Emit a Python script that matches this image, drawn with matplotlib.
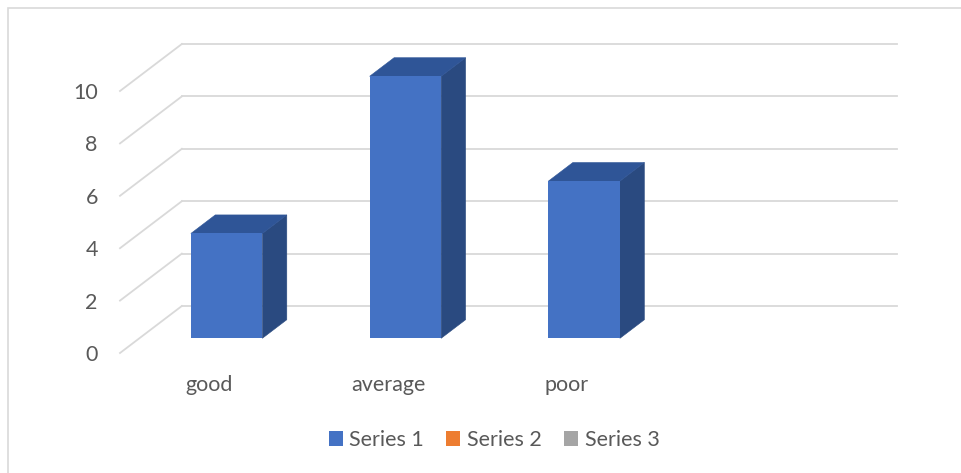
import numpy as np
import matplotlib
matplotlib.use("Agg")
import matplotlib.pyplot as plt
from matplotlib.patches import Rectangle, Polygon, Patch

# ---- data ----
categories = ["good", "average", "poor", ""]
series_names = ["Series 1", "Series 2", "Series 3"]
series1 = [4, 10, 6, np.nan]
y_ticks = [0, 2, 4, 6, 8, 10]

# ---- style ----
plt.rcParams['font.family'] = ['Lato', 'DejaVu Sans']
TXT = '#595959'
GRID = '#D9D9D9'
FRONT = '#4472C4'
TOP = '#2F5597'
SIDE = '#2A4A80'
colors = ['#4472C4', '#ED7D31', '#A5A5A5']
FS = 15.5

W, H = 961, 473
fig = plt.figure(figsize=(W / 100, H / 100), dpi=100)

# chart border
fig.patches.append(Rectangle((8 / W, -0.1), 1.2, 1.1 - 8 / H, transform=fig.transFigure,
                             fill=False, edgecolor=GRID, lw=1.2))

ax = fig.add_axes([120 / W, (H - 353) / H, 777 / W, 309 / H])
n = len(categories)
DX = 62 / 179.25   # depth offset in category units
DY = 47 / 26.2     # depth offset in value units
ymax = 10
ax.set_xlim(0, n + DX)
ax.set_ylim(0, ymax + DY)
for s in ax.spines.values():
    s.set_visible(False)

# gridlines (side wall diagonals + back wall)
for v in y_ticks:
    ax.plot([0, DX], [v, v + DY], color=GRID, lw=1.3, zorder=1, clip_on=False)
    ax.plot([DX, n + DX], [v + DY, v + DY], color=GRID, lw=1.3, zorder=1, clip_on=False)

# 3D bars
off, w, d0, d1 = 0.288, 0.40, 0.313, 0.708
for i, v in enumerate(series1):
    if np.isnan(v):
        continue
    x0 = i + off
    fx, fy = x0 + d0 * DX, d0 * DY
    bx, by = x0 + d1 * DX, d1 * DY
    ax.add_patch(Polygon([(fx + w, fy), (bx + w, by), (bx + w, by + v), (fx + w, fy + v)],
                         closed=True, facecolor=SIDE, edgecolor=SIDE, lw=0.4, zorder=3))
    ax.add_patch(Polygon([(fx, fy + v), (fx + w, fy + v), (bx + w, by + v), (bx, by + v)],
                         closed=True, facecolor=TOP, edgecolor=TOP, lw=0.4, zorder=3))
    ax.add_patch(Rectangle((fx, fy), w, v, facecolor=FRONT, edgecolor='none', zorder=4))

ax.set_yticks(y_ticks)
ax.set_yticklabels([str(t) for t in y_ticks], color=TXT, fontsize=FS)
ax.set_xticks(np.arange(n) + 0.5)
ax.set_xticklabels(categories, color=TXT, fontsize=FS)
ax.tick_params(axis='y', length=0, pad=16)
ax.tick_params(axis='x', length=0, pad=16)

handles = [Patch(facecolor=c, edgecolor='none', label=nm) for c, nm in zip(colors, series_names)]
fig.legend(handles=handles, loc='center', bbox_to_anchor=(494 / W, 1 - 440 / H), ncol=3,
           frameon=False, fontsize=FS, handlelength=0.65, handleheight=0.65,
           handletextpad=0.3, columnspacing=1.05, labelcolor=TXT)

fig.savefig('out.png', dpi=100, facecolor='white')
